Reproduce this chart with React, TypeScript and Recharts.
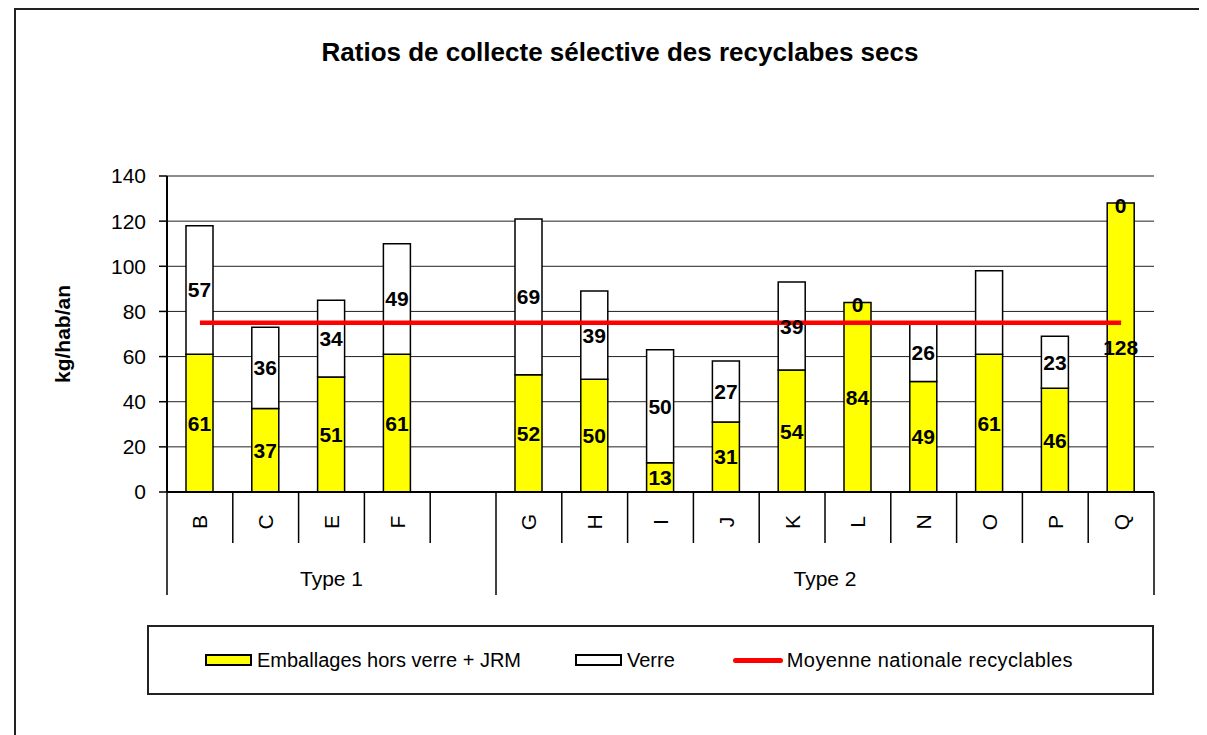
import React from "react";
import {
  ComposedChart,
  Bar,
  Line,
  XAxis,
  YAxis,
  CartesianGrid,
  LabelList,
  Label,
  ReferenceLine,
} from "recharts";

// categories along the x axis (the blank one separates the two groups)
const categories = ["B", "C", "E", "F", " ", "G", "H", "I", "J", "K", "L", "N", "O", "P", "Q"];
const emballages = [61, 37, 51, 61, null, 52, 50, 13, 31, 54, 84, 49, 61, 46, 128];
const verre = [57, 36, 34, 49, null, 69, 39, 50, 27, 39, 0, 26, 37, 23, 0];
// the Verre label of O is not shown on the original
const verreLabels = [57, 36, 34, 49, null, 69, 39, 50, 27, 39, 0, 26, null, 23, 0];
const moyenne = [75, 75, 75, 75, 75, 75, 75, 75, 75, 75, 75, 75, 75, 75, 75];
const groupNames = ["Type 1", "Type 2"];
const groupSizes = [5, 10];
const yTicks = [0, 20, 40, 60, 80, 100, 120, 140];

// zero-height Verre segments get their label drawn at the top of the yellow bar
const data = categories.map((name, i) => ({
  name,
  emballages: emballages[i],
  verre: verre[i],
  verreLabel: verre[i] === 0 ? null : verreLabels[i],
  verreZeroLabel: verre[i] === 0 ? verreLabels[i] : null,
  moyenne: moyenne[i],
}));

const FONT = '"Liberation Sans", Arial, sans-serif';

// index of first category of each group
const groupStarts = groupSizes.map((_, g) =>
  groupSizes.slice(0, g).reduce((a, b) => a + b, 0)
);

function CategoryTick(props: any) {
  const { x, y, payload, index } = props;
  const half = payload?.offset ?? 0;
  const left = x - half;
  const right = x + half;
  const g = groupStarts.indexOf(index);
  const isStart = g >= 0;
  const isLast = index === categories.length - 1;
  return (
    <g>
      <line x1={left} y1={y} x2={left} y2={y + (isStart ? 103 : 51)} stroke="#000" strokeWidth={1.5} />
      {isLast && <line x1={right} y1={y} x2={right} y2={y + 103} stroke="#000" strokeWidth={1.5} />}
      <text
        x={x}
        y={y + 30}
        transform={`rotate(-90 ${x} ${y + 30})`}
        textAnchor="middle"
        dominantBaseline="central"
        fontSize={21}
        fontFamily={FONT}
        fill="#000"
      >
        {payload.value}
      </text>
      {isStart && (
        <text
          x={left + groupSizes[g] * half}
          y={y + 86}
          textAnchor="middle"
          dominantBaseline="central"
          fontSize={21}
          fontFamily={FONT}
          fill="#000"
        >
          {groupNames[g]}
        </text>
      )}
    </g>
  );
}

const YLabel = (props: any) => {
  const vb = props.viewBox || { x: 99, y: 168, height: 316 };
  const cx = vb.x - 45;
  const cy = vb.y + vb.height / 2;
  return (
    <text
      x={cx}
      y={cy}
      transform={`rotate(-90 ${cx} ${cy})`}
      textAnchor="middle"
      dominantBaseline="central"
      fontSize={21}
      fontWeight="bold"
      fontFamily={FONT}
      fill="#000"
    >
      kg/hab/an
    </text>
  );
};

const TopEdgeLabel = (props: any) => {
  const { x, y, width, value } = props;
  if (value === null || value === undefined) return null;
  return (
    <text
      x={x + width / 2}
      y={y + 2}
      textAnchor="middle"
      dominantBaseline="central"
      fontSize={21}
      fontWeight="bold"
      fontFamily={FONT}
      fill="#000"
    >
      {value}
    </text>
  );
};

const legendItems = [
  { label: "Emballages hors verre + JRM", kind: "box", color: "#FFFF00" },
  { label: "Verre", kind: "box", color: "#FFFFFF" },
  { label: "Moyenne nationale recyclables", kind: "line", color: "#FF0000" },
];

export default function App() {
  const labelStyle = { fontSize: 21, fontWeight: "bold", fill: "#000", fontFamily: FONT };
  return (
    <div style={{ position: "relative", width: 1199, height: 727, overflow: "hidden", fontFamily: FONT }}>
      <div
        style={{
          position: "absolute",
          left: 6,
          top: 0,
          width: 1300,
          height: 800,
          border: "2px solid #222",
          boxSizing: "border-box",
        }}
      />
      <div
        style={{
          position: "absolute",
          left: 212,
          width: 800,
          top: 29,
          lineHeight: "30px",
          textAlign: "center",
          fontSize: 26,
          fontWeight: "bold",
          color: "#000",
        }}
      >
        Ratios de collecte sélective des recyclabes secs
      </div>
      <div style={{ position: "absolute", left: 0, top: 0 }}>
        <ComposedChart
          width={1199}
          height={727}
          data={data}
          margin={{ top: 168, right: 53, bottom: 140, left: 99 }}
          barSize={27}
        >
          <CartesianGrid horizontal vertical={false} stroke="#222" strokeWidth={1} />
          <ReferenceLine y={140} stroke="#8c8c8c" strokeWidth={1.5} />
          <XAxis
            dataKey="name"
            height={103}
            interval={0}
            tickLine={false}
            tickSize={0}
            tickMargin={0}
            axisLine={{ stroke: "#000", strokeWidth: 2 }}
            tick={<CategoryTick />}
          />
          <YAxis
            width={60}
            domain={[0, 140]}
            ticks={yTicks}
            interval={0}
            tickSize={8}
            tickMargin={13}
            axisLine={{ stroke: "#000", strokeWidth: 2 }}
            tickLine={{ stroke: "#000", strokeWidth: 1.5 }}
            tick={{ fontSize: 21, fill: "#000", fontFamily: FONT }}
          >
            <Label content={<YLabel />} />
          </YAxis>
          <YAxis
            yAxisId="right"
            orientation="right"
            width={0}
            domain={[0, 140]}
            ticks={yTicks}
            interval={0}
            tickSize={7}
            tick={false}
            axisLine={{ stroke: "#8c8c8c", strokeWidth: 1.5 }}
            tickLine={{ stroke: "#8c8c8c", strokeWidth: 1.5 }}
          />
          <Bar
            dataKey="emballages"
            stackId="a"
            fill="#FFFF00"
            stroke="#000"
            strokeWidth={1.5}
            isAnimationActive={false}
          >
            <LabelList dataKey="emballages" position="center" style={labelStyle} />
            <LabelList dataKey="verreZeroLabel" content={<TopEdgeLabel />} />
          </Bar>
          <Bar
            dataKey="verre"
            stackId="a"
            fill="#FFFFFF"
            stroke="#000"
            strokeWidth={1.5}
            isAnimationActive={false}
          >
            <LabelList dataKey="verreLabel" position="center" style={labelStyle} />
          </Bar>
          <Line
            dataKey="moyenne"
            stroke="#FF0000"
            strokeWidth={4.5}
            dot={false}
            activeDot={false}
            isAnimationActive={false}
          />
        </ComposedChart>
      </div>
      <div
        style={{
          position: "absolute",
          left: 139,
          top: 617,
          width: 1007,
          height: 70,
          border: "2px solid #222",
          boxSizing: "border-box",
          display: "flex",
          alignItems: "center",
          paddingLeft: 56,
          fontSize: 20,
          color: "#000",
        }}
      >
        {legendItems.map((item, i) => (
          <div
            key={item.label}
            style={{ display: "flex", alignItems: "center", marginLeft: i === 0 ? 0 : i === 1 ? 54 : 58 }}
          >
            {item.kind === "box" ? (
              <span
                style={{
                  display: "inline-block",
                  width: 47,
                  height: 12,
                  background: item.color,
                  border: "2px solid #000",
                  boxSizing: "border-box",
                  marginRight: 5,
                }}
              />
            ) : (
              <span
                style={{
                  display: "inline-block",
                  width: 50,
                  height: 5,
                  borderRadius: 3,
                  background: item.color,
                  marginRight: 4,
                }}
              />
            )}
            <span style={{ letterSpacing: i === 2 ? 0.4 : 0 }}>{item.label}</span>
          </div>
        ))}
      </div>
    </div>
  );
}
